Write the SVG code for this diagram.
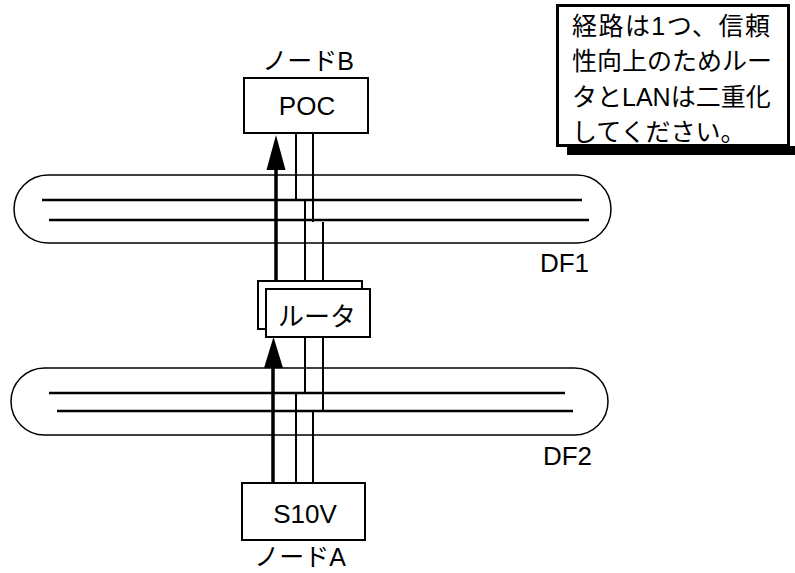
<svg xmlns="http://www.w3.org/2000/svg" width="795" height="573" viewBox="0 0 795 573">
<style>
.box{fill:#fff;stroke:#000;stroke-width:2}
.df{fill:#fff;stroke:#000;stroke-width:1.5}
.bus{stroke:#000;stroke-width:2.5}
.w{stroke:#000;stroke-width:2;fill:none}
.arr{stroke:#000;stroke-width:3.5;fill:none}
text{font-family:"Liberation Sans","Noto Sans CJK JP",Arial,sans-serif;font-size:26px;fill:#000}
.c{text-anchor:middle}
.n{font-size:25px}
</style>
<g id="DF1">
<rect class="df" x="14" y="175" width="597" height="68" rx="34" ry="34"/>
<line class="bus" x1="42" y1="200" x2="582" y2="200"/>
<line class="bus" x1="49" y1="220" x2="589" y2="220"/>
<text x="589" y="272" text-anchor="end">DF1</text>
</g>
<g id="DF2">
<rect class="df" x="11" y="368" width="597" height="67" rx="33.5" ry="33.5"/>
<line class="bus" x1="49" y1="393" x2="565" y2="393"/>
<line class="bus" x1="57" y1="411" x2="573" y2="411"/>
<text x="592" y="465" text-anchor="end">DF2</text>
</g>
<g id="connectors">
<line class="w" x1="296" y1="133" x2="296" y2="200"/>
<line class="w" x1="313" y1="133" x2="313" y2="222"/>
<line class="w" x1="305" y1="200" x2="305" y2="281"/>
<line class="w" x1="323" y1="222" x2="323" y2="281"/>
<line class="w" x1="305" y1="337" x2="305" y2="393"/>
<line class="w" x1="323" y1="337" x2="323" y2="411"/>
<line class="w" x1="296" y1="393" x2="296" y2="483"/>
<line class="w" x1="313" y1="411" x2="313" y2="483"/>
<line class="arr" x1="276" y1="281" x2="276" y2="166"/>
<polygon points="276,135 285.5,170 266.5,170" fill="#000"/>
<line class="arr" x1="273" y1="483" x2="273" y2="364"/>
<polygon points="273.5,337 283,368 264,368" fill="#000"/>
</g>
<g id="POC">
<rect class="box" x="244" y="78" width="124" height="55"/>
<text class="c" x="307" y="115">POC</text>
<text class="c n" x="308" y="70">ノードB</text>
</g>
<g id="router">
<rect class="box" x="258" y="281" width="104" height="48"/>
<rect class="box" x="266" y="289" width="104" height="48"/>
<text class="c" x="317" y="326">ルータ</text>
</g>
<g id="S10V">
<rect class="box" x="242" y="483" width="123" height="57"/>
<text class="c" x="305" y="523">S10V</text>
<text class="c n" x="300" y="566">ノードA</text>
</g>
<g id="note">
<rect x="567" y="146" width="228" height="9" fill="#000"/>
<rect x="557.5" y="5.5" width="231" height="140" fill="#fff" stroke="#000" stroke-width="3"/>
<text class="n" x="572" y="35" textLength="198" lengthAdjust="spacing">経路は1つ、信頼</text>
<text class="n" x="572" y="70">性向上のためルー</text>
<text class="n" x="572" y="106">タとLANは二重化</text>
<text class="n" x="572" y="141">してください。</text>
</g>
</svg>
